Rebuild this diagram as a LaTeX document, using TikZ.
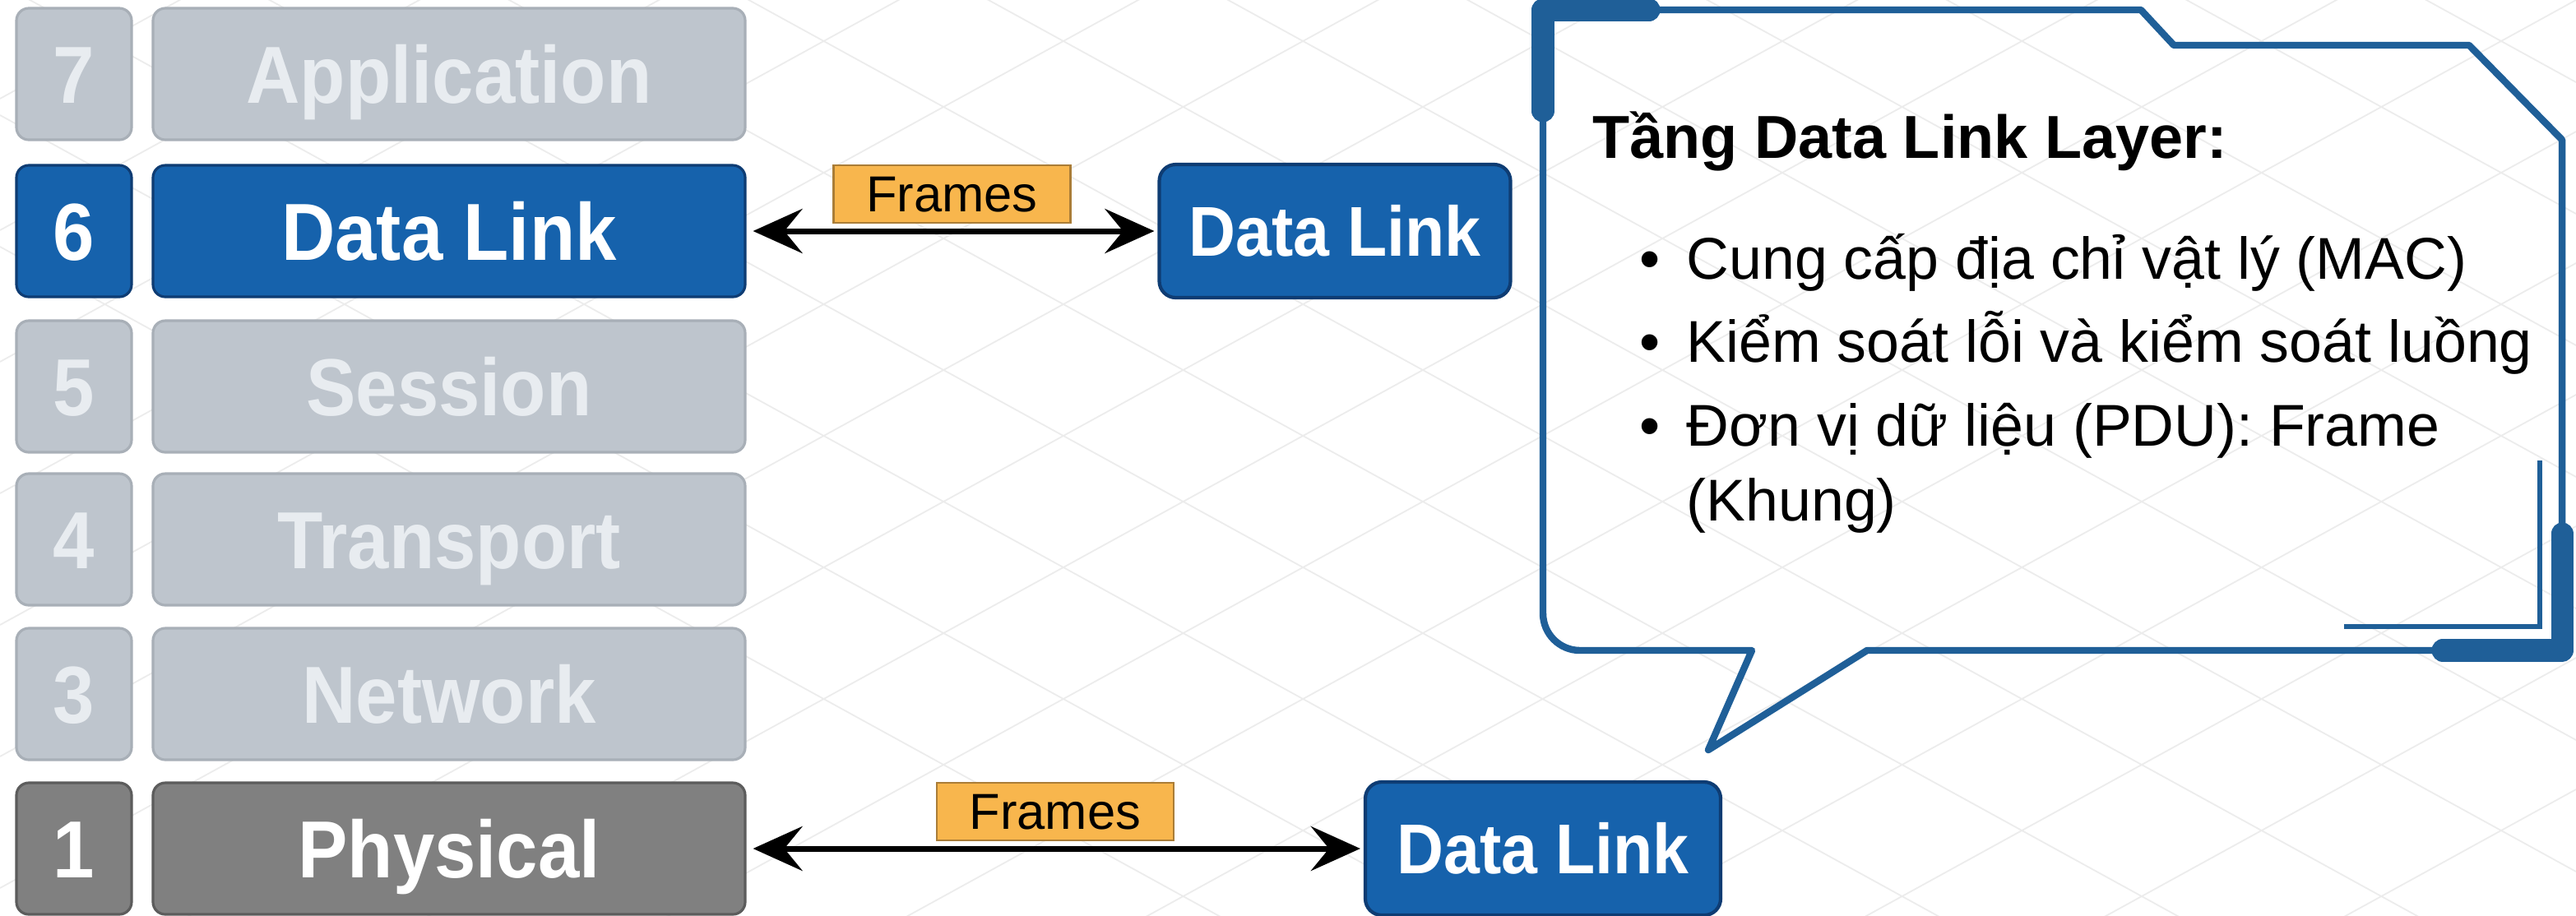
\documentclass[tikz,border=0pt]{standalone}
\usepackage{fontspec}
\setmainfont{Liberation Sans}
\newfontfamily\narrowfont[FakeStretch=0.92]{Liberation Sans}
\usetikzlibrary{arrows.meta}

\definecolor{linkblue}{RGB}{22,98,172}
\definecolor{linkedge}{RGB}{14,60,115}
\definecolor{idlefill}{RGB}{190,197,205}
\definecolor{idleedge}{RGB}{168,175,183}
\definecolor{idletext}{RGB}{232,236,240}
\definecolor{physfill}{RGB}{128,128,128}
\definecolor{physedge}{RGB}{92,92,92}
\definecolor{framegold}{RGB}{248,182,77}
\definecolor{framebrown}{RGB}{170,125,55}
\definecolor{callblue}{RGB}{31,95,152}
\definecolor{gridgray}{RGB}{236,236,236}

\begin{document}
\begin{tikzpicture}[>={Stealth[length=6mm,width=5.4mm,inset=2.2mm]},
  layer/.style={rounded corners=1.5mm, line width=0.9pt, minimum height=1.6cm,
    inner sep=0pt, text height=20pt, text depth=0pt,
    font=\narrowfont\bfseries\fontsize{28}{30}\selectfont},
  idle/.style={fill=idlefill, draw=idleedge, text=idletext},
  active/.style={fill=linkblue, draw=linkedge, text=white},
  phys/.style={fill=physfill, draw=physedge, text=white},
  peer/.style={layer, active, rounded corners=2mm, line width=1.2pt,
    minimum height=1.62cm, text height=17.4pt,
    font=\narrowfont\bfseries\fontsize{24.4}{26}\selectfont},
  frame/.style={fill=framegold, draw=framebrown, line width=0.6pt,
    minimum width=2.88cm, minimum height=0.7cm, inner sep=0pt,
    text height=12.5pt, text depth=0pt, font=\fontsize{17.5}{19}\selectfont},
  txt/.style={font=\fontsize{20.4}{24}\selectfont, inner sep=0pt}]
  % page and background grid
  \useasboundingbox (0,0) rectangle (31.32,-11.13);
  \fill[white] (0,0) rectangle (31.32,-11.13);
  \begin{scope}
    \clip (0,0) rectangle (31.32,-11.13);
    \foreach \c in {-30,-28.4,...,14}
      \draw[gridgray, line width=0.5pt] (0,\c) -- (31.32,\c+17.2);
    \foreach \c in {-3,-1.4,...,40}
      \draw[gridgray, line width=0.5pt] (0,\c) -- (31.32,\c-17.2);
  \end{scope}
  % layer stack
  \foreach \num/\name/\y/\kind in {7/Application/0.90/idle, 6/Data Link/2.81/active,
      5/Session/4.70/idle, 4/Transport/6.56/idle, 3/Network/8.44/idle, 1/Physical/10.32/phys} {
    \node[layer, \kind, minimum width=1.4cm] (n\num) at (0.90,-\y) {\num};
    \node[layer, \kind, minimum width=7.2cm] (l\num) at (5.46,-\y) {\name};
  }
  % peer nodes
  \node[peer, minimum width=4.27cm] (dl1) at (16.23,-2.81) {Data Link};
  \node[peer, minimum width=4.32cm] (dl2) at (18.76,-10.32) {Data Link};
  % arrows with labels
  \draw[<->, line width=2pt, shorten <=0.8mm, shorten >=0.4mm] (l6.east) --
    node[frame, midway, above=0.9mm] (f1) {Frames} (dl1.west);
  \draw[<->, line width=2pt, shorten <=0.8mm, shorten >=0.4mm] (l1.east) --
    node[frame, midway, above=0.9mm] (f2) {Frames} (dl2.west);
  % callout outline
  \draw[callblue, line width=2.4pt, line join=round]
    (18.76,-0.12) -- (26.03,-0.12) -- (26.43,-0.55) -- (30.02,-0.55)
    -- (31.15,-1.70) -- (31.15,-7.91) -- (22.70,-7.91) -- (20.77,-9.12)
    -- (21.30,-7.91) -- (19.21,-7.91) arc[start angle=270, end angle=180, radius=0.45]
    -- cycle;
  % thick corner pieces and inner bracket
  \draw[callblue, line width=7.7pt, line cap=round, line join=round]
    (20.05,-0.12) -- (18.76,-0.12) -- (18.76,-1.35);
  \draw[callblue, line width=7.7pt, line cap=round, line join=round]
    (29.70,-7.91) -- (31.15,-7.91) -- (31.15,-6.49);
  \draw[callblue, line width=1.6pt] (28.50,-7.62) -- (30.88,-7.62) -- (30.88,-5.60);
  % callout text
  \node[anchor=base west, inner sep=0pt, font=\bfseries\fontsize{21}{25}\selectfont]
    (title) at (19.36,-1.92) {Tầng Data Link Layer:};
  \node[txt, anchor=base] (b1) at (20.06,-3.39) {•};
  \node[txt, anchor=base west] (i1) at (20.50,-3.39) {Cung cấp địa chỉ vật lý (MAC)};
  \node[txt, anchor=base] (b2) at (20.06,-4.40) {•};
  \node[txt, anchor=base west] (i2) at (20.50,-4.40) {Kiểm soát lỗi và kiểm soát luồng};
  \node[txt, anchor=base] (b3) at (20.06,-5.42) {•};
  \node[txt, anchor=base west] (i3) at (20.50,-5.42) {Đơn vị dữ liệu (PDU): Frame};
  \node[txt, anchor=base west] (i4) at (20.50,-6.33) {(Khung)};
\end{tikzpicture}
\end{document}
